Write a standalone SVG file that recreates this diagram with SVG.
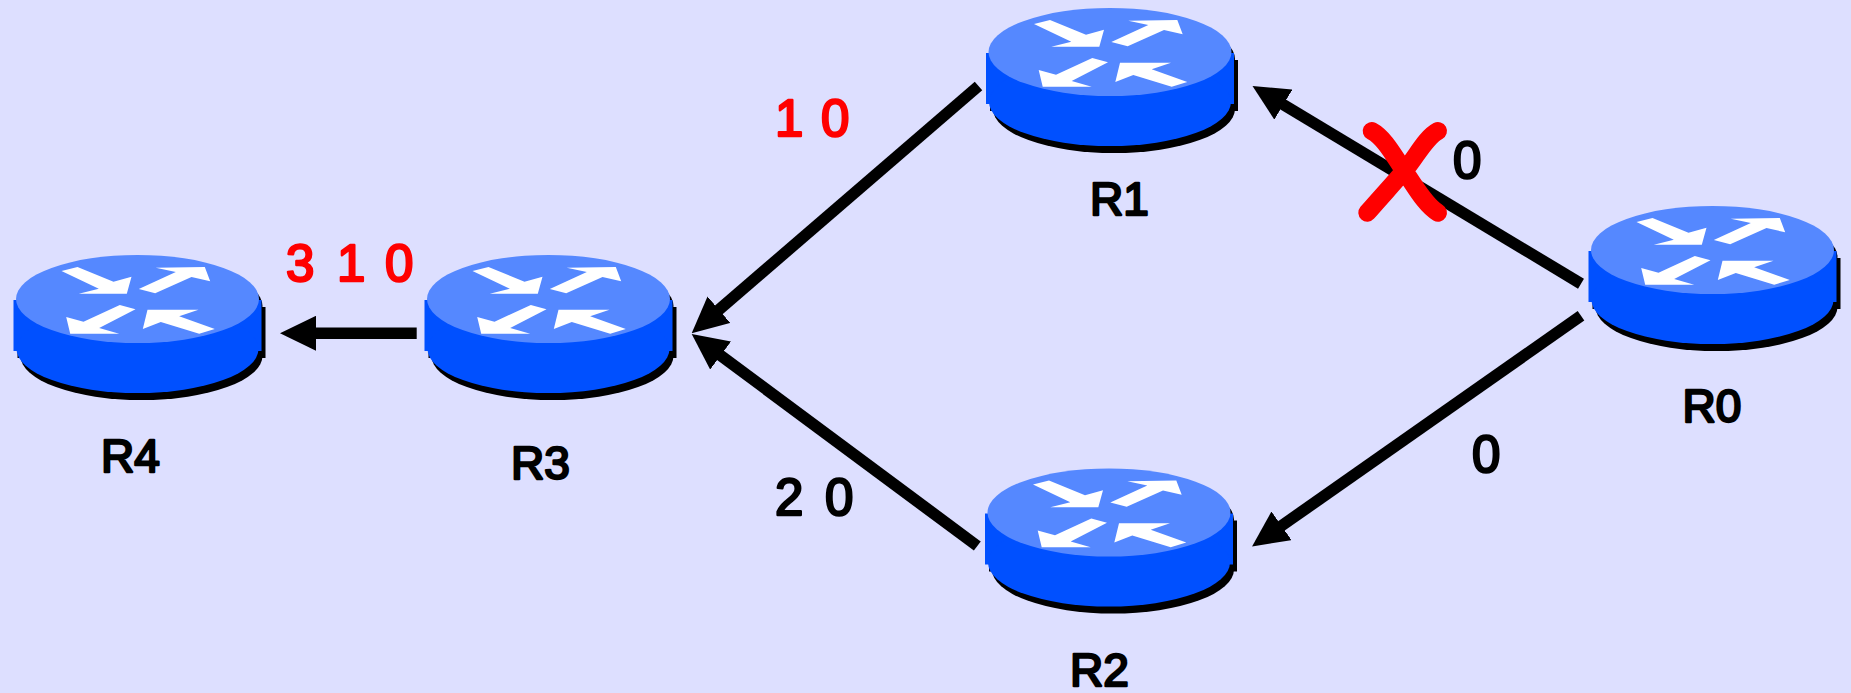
<svg xmlns="http://www.w3.org/2000/svg" width="1851" height="693" viewBox="0 0 1851 693">
<style>
.lbl{font-family:"Liberation Sans",Arial,sans-serif;font-size:51px;stroke-width:2.4;stroke-linejoin:round}
.nm{font-size:46px}
.k{fill:#000;stroke:#000}
.r{fill:#f00;stroke:#f00}
.link{fill:none;stroke:#000;stroke-width:11.5;marker-end:url(#head)}
.ar{fill:#fff}
</style>
<defs>
<marker id="head" markerUnits="userSpaceOnUse" markerWidth="36" markerHeight="35" viewBox="0 0 36 35" refX="1" refY="17.5" orient="auto"><path d="M0,0L36,17.5L0,35z" fill="#000"/></marker>
<g id="router">
<g transform="translate(4,7)" fill="#000"><rect x="-123.5" y="1" width="248" height="51"/><ellipse cx="0.5" cy="50" rx="121" ry="44"/><ellipse cx="0.5" cy="0" rx="121" ry="44"/></g>
<rect x="-123.5" y="1" width="248" height="51" fill="#0050ff"/>
<ellipse cx="0.5" cy="50" rx="121" ry="44" fill="#0050ff"/>
<ellipse cx="0.5" cy="0" rx="121.5" ry="44" fill="#5588ff"/>
<polygon class="ar" points="-75.5,-28 -59.5,-32 -23.5,-17.3 -5.5,-22.3 -10.2,-5.3 -58.2,-5.3 -38.2,-10.3"/>
<polygon class="ar" points="18.8,-31.3 67.8,-32 73.2,-17.7 54.5,-22 18.2,-5.7 1.8,-10 38.8,-27"/>
<polygon class="ar" points="-17.2,6 -1.5,10.3 -37.8,29 -17.8,34.7 -66.8,34.7 -70.8,18 -53.5,22.7"/>
<polygon class="ar" points="10.5,10.7 61.5,10.7 42.2,17.3 77.8,30 62.2,34.7 23.8,23 5.8,30"/>
</g>
</defs>
<rect width="1851" height="693" fill="#dddfff"/>
<g id="connectors">
<path class="link" d="M978.5,86L718.2,310.4"/>
<path class="link" d="M977.3,546L719.8,354.9"/>
<path class="link" d="M1581,283.7L1282.5,104.1"/>
<path class="link" d="M1581,315.8L1280.7,526.4"/>
<path class="link" d="M416.7,333.3L315,333.3"/>
</g>
<g id="R0"><use href="#router" transform="translate(1712,250)"/><text class="lbl nm k" x="1682.5" y="422">R0</text></g>
<g id="R1"><use href="#router" transform="translate(1109.5,52)"/><text class="lbl nm k" x="1090" y="215">R1</text></g>
<g id="R2"><use href="#router" transform="translate(1108.5,512.5)"/><text class="lbl nm k" x="1070" y="685.5">R2</text></g>
<g id="R3"><use href="#router" transform="translate(548,299)"/><text class="lbl nm k" x="511" y="479">R3</text></g>
<g id="R4"><use href="#router" transform="translate(137,299)"/><text class="lbl nm k" x="101" y="472">R4</text></g>
<g id="failure"><path d="M1371.7,131C1385,138 1395,158 1405,172C1415,186 1425,205 1438,212.7M1438,131C1425,138 1417,156 1405,170C1393,184 1380,198 1367.3,212.7" fill="none" stroke="#f00" stroke-width="18" stroke-linecap="round"/></g>
<g id="labels">
<text class="lbl k" x="1453" y="178">0</text>
<text class="lbl k" x="1472" y="472">0</text>
<text class="lbl k" x="775 800 825" y="515">2 0</text>
<text class="lbl r" x="775 800 821" y="136">1 0</text>
<text class="lbl r" x="286 320 337 370 385" y="281">3 1 0</text>
</g>
</svg>
